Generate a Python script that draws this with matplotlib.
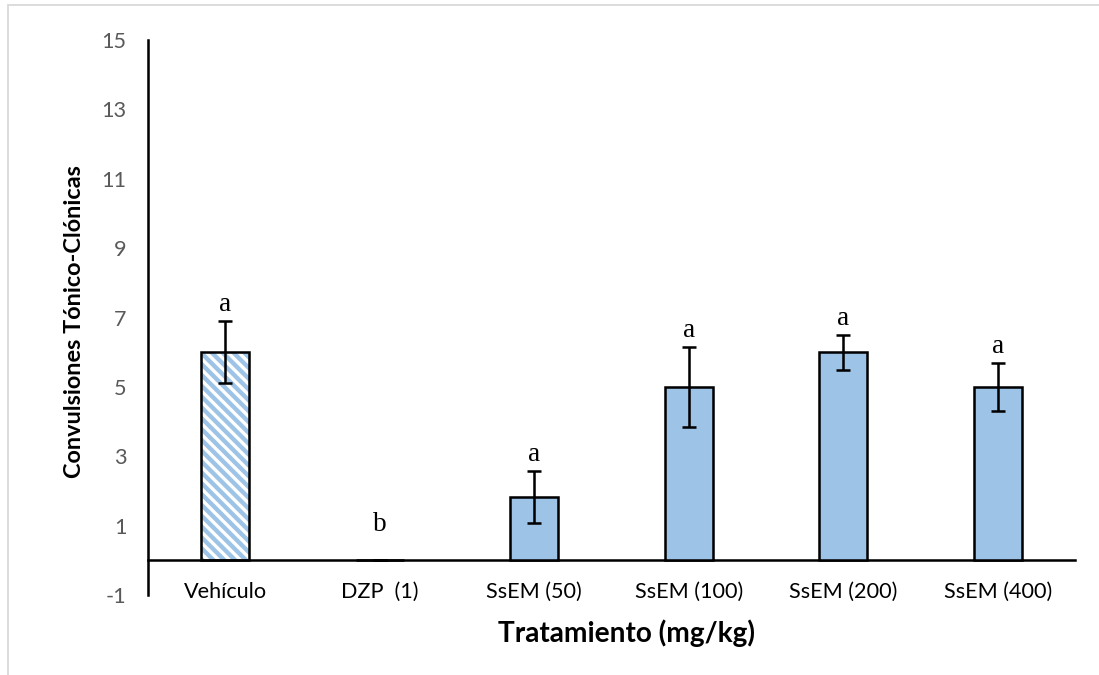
import numpy as np
import matplotlib
matplotlib.use('Agg')
import matplotlib.pyplot as plt
from matplotlib.patches import Rectangle

tratamientos = ['Vehículo', 'DZP  (1)', 'SsEM (50)', 'SsEM (100)', 'SsEM (200)', 'SsEM (400)']
medias = [6.0, 0.0, 1.83, 5.0, 6.0, 5.0]
errores = [0.9, 0.0, 0.75, 1.15, 0.5, 0.7]
letras = ['a', 'b', 'a', 'a', 'a', 'a']

azul = '#9DC3E6'
gris = '#595959'

plt.rcParams['hatch.linewidth'] = 2.4
plt.rcParams['axes.unicode_minus'] = False

DPI = 130
fig = plt.figure(figsize=(1099 / DPI, 675 / DPI), dpi=DPI)
ax = fig.add_axes([148 / 1099, 1 - 595 / 675, (1075 - 148) / 1099, (595 - 40) / 675])

x = np.arange(len(tratamientos))
ancho = 0.31

# vehiculo con rayas, el resto relleno liso
for i in x:
    if i == 0:
        ax.bar(i, medias[i], ancho, color='white', edgecolor=azul, hatch='\\\\\\\\', linewidth=0, zorder=2)
        ax.bar(i, medias[i], ancho, color='none', edgecolor='black', linewidth=1.4, zorder=3)
    else:
        ax.bar(i, medias[i], ancho, color=azul, edgecolor='black', linewidth=1.4, zorder=3)

ax.errorbar(x, medias, yerr=errores, fmt='none', ecolor='black', elinewidth=1.4,
            capsize=4, capthick=1.4, zorder=4)

# letras de significancia
for i in x:
    tope = medias[i] + errores[i]
    desp = 2 if errores[i] > 0 else 13
    ax.annotate(letras[i], (i, tope), xytext=(0, desp), textcoords='offset points',
                ha='center', va='bottom', fontsize=15, family='Liberation Serif')

ax.set_xlim(-0.5, 5.5)
ax.set_ylim(-1, 15)
ax.set_yticks(np.arange(-1, 16, 2))
ax.set_xticks(x)
ax.set_xticklabels(tratamientos)

ax.spines['top'].set_visible(False)
ax.spines['right'].set_visible(False)
ax.spines['bottom'].set_position(('data', 0))
ax.spines['left'].set_linewidth(1.4)
ax.spines['bottom'].set_linewidth(1.4)

ax.tick_params(axis='y', length=0, pad=12, labelsize=12, labelcolor=gris)
ax.tick_params(axis='x', length=0, pad=12, labelsize=12, labelcolor='black')
for t in ax.get_xticklabels() + ax.get_yticklabels():
    t.set_family('Lato')

fig.text(627 / 1099, 1 - 633 / 675, 'Tratamiento (mg/kg)', ha='center', va='center',
         fontsize=15.5, fontweight='bold', family='Lato')
fig.text(75 / 1099, 1 - 322 / 675, 'Convulsiones Tónico-Clónicas', ha='center', va='center',
         rotation=90, fontsize=13, fontweight='bold', family='Lato')

# marco gris del area del grafico
fig.patches.append(Rectangle((8 / 1099, -0.1), 1.2, 1 - 5 / 675 + 0.1, transform=fig.transFigure,
                             fill=False, edgecolor='#D9D9D9', linewidth=1))

fig.savefig('out.png', dpi=DPI)
